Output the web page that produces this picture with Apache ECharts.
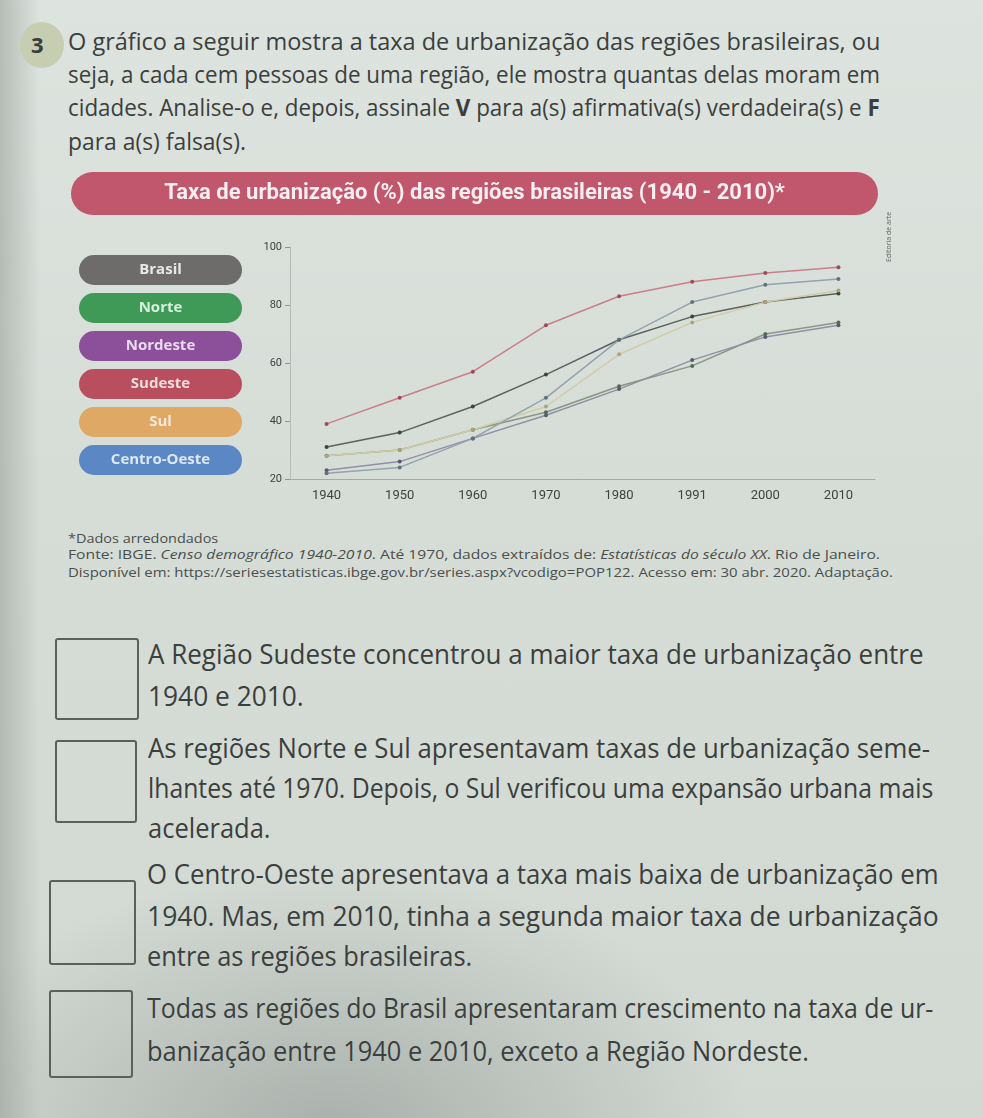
<!DOCTYPE html>
<html lang="pt-BR">
<head>
<meta charset="utf-8">
<script src="https://cdn.jsdelivr.net/npm/echarts@6/dist/echarts.min.js"></script>
<style>
  html, body { margin:0; padding:0; }
  body {
    width:983px; height:1118px; position:relative; overflow:hidden;
    font-family:"Open Sans", "Noto Sans", sans-serif; color:#3b3f3d;
    background:
      radial-gradient(ellipse 420px 260px at 330px 1130px, rgba(120,128,124,0.45), rgba(120,128,124,0) 100%),
      linear-gradient(90deg, rgba(150,158,152,0.55) 0px, rgba(150,158,152,0) 40px),
      linear-gradient(180deg, #dde3de 0px, #d6ddd7 500px, #d2d9d3 1118px);
  }
  .ln { position:absolute; white-space:nowrap; transform-origin:0 50%; }
  .p { font-size:23px; line-height:26px; }
  .s { font-size:28px; line-height:32px; }
  .f { font-size:13px; line-height:15px; color:#4a4e4c; }
  .box { position:absolute; border:2px solid #5b5f5d; border-radius:3px; box-sizing:border-box; }
  #num { position:absolute; left:20px; top:22px; width:44px; height:46px; border-radius:50%;
         background:#c6cdb0; }
  #numt { position:absolute; left:31px; top:29px; font-size:22px; font-weight:bold; color:#3a3d3b; }
  #chart { position:absolute; left:0; top:160px; width:983px; height:360px; }
  #ed { position:absolute; left:884px; top:262px; font-size:7px; color:#666; transform:rotate(-90deg); transform-origin:0 0; }
</style>
</head>
<body>
<div id="num"></div><div id="numt">3</div>

<div class="ln p" data-x="68" data-y="41" data-w="812">O gráfico a seguir mostra a taxa de urbanização das regiões brasileiras, ou</div>
<div class="ln p" data-x="68" data-y="74" data-w="812">seja, a cada cem pessoas de uma região, ele mostra quantas delas moram em</div>
<div class="ln p" data-x="68" data-y="107" data-w="812">cidades. Analise-o e, depois, assinale <b>V</b> para a(s) afirmativa(s) verdadeira(s) e <b>F</b></div>
<div class="ln p" data-x="68" data-y="141" data-w="178">para a(s) falsa(s).</div>

<div id="chart"></div>
<div id="ed">Editoria de arte</div>

<div class="ln f" data-x="68" data-y="538" data-w="150">*Dados arredondados</div>
<div class="ln f" data-x="68" data-y="554" data-w="812">Fonte: IBGE. <i>Censo demográfico 1940-2010</i>. Até 1970, dados extraídos de: <i>Estatísticas do século XX</i>. Rio de Janeiro.</div>
<div class="ln f" data-x="68" data-y="572" data-w="825">Disponível em: https://seriesestatisticas.ibge.gov.br/series.aspx?vcodigo=POP122. Acesso em: 30 abr. 2020. Adaptação.</div>

<div class="box" style="left:55px;top:638px;width:84px;height:82px"></div>
<div class="box" style="left:55px;top:740px;width:82px;height:83px"></div>
<div class="box" style="left:49px;top:880px;width:87px;height:85px"></div>
<div class="box" style="left:49px;top:990px;width:84px;height:88px"></div>

<div class="ln s" data-x="148" data-y="653" data-w="776">A Região Sudeste concentrou a maior taxa de urbanização entre</div>
<div class="ln s" data-x="148" data-y="695" data-w="156">1940 e 2010.</div>
<div class="ln s" data-x="148" data-y="747" data-w="782">As regiões Norte e Sul apresentavam taxas de urbanização seme-</div>
<div class="ln s" data-x="148" data-y="787" data-w="785">lhantes até 1970. Depois, o Sul verificou uma expansão urbana mais</div>
<div class="ln s" data-x="148" data-y="827" data-w="123">acelerada.</div>
<div class="ln s" data-x="147" data-y="873" data-w="792">O Centro-Oeste apresentava a taxa mais baixa de urbanização em</div>
<div class="ln s" data-x="147" data-y="915" data-w="792">1940. Mas, em 2010, tinha a segunda maior taxa de urbanização</div>
<div class="ln s" data-x="147" data-y="955" data-w="325">entre as regiões brasileiras.</div>
<div class="ln s" data-x="147" data-y="1007" data-w="786">Todas as regiões do Brasil apresentaram crescimento na taxa de ur-</div>
<div class="ln s" data-x="147" data-y="1050" data-w="662">banização entre 1940 e 2010, exceto a Região Nordeste.</div>

<script>
// ---- data ----
const years = ['1940', '1950', '1960', '1970', '1980', '1991', '2000', '2010'];
const regionNames = ['Brasil', 'Norte', 'Nordeste', 'Sudeste', 'Sul', 'Centro-Oeste'];
const brasil      = [31, 36, 45, 56, 68, 76, 81, 84];
const norte       = [28, 30, 37, 43, 52, 59, 70, 74];
const nordeste    = [23, 26, 34, 42, 51, 61, 69, 73];
const sudeste     = [39, 48, 57, 73, 83, 88, 91, 93];
const sul         = [28, 30, 37, 45, 63, 74, 81, 85];
const centroOeste = [22, 24, 34, 48, 68, 81, 87, 89];
const yTicks = [20, 40, 60, 80, 100];
const titleText = 'Taxa de urbanização (%) das regiões brasileiras (1940 - 2010)*';

// ---- styles ----
const seriesValues = [brasil, norte, nordeste, sudeste, sul, centroOeste];
const pillColors = ['#6d6c6b', '#3f9a58', '#8c4f9a', '#b94f5e', '#dfa865', '#5b87c4'];
const pillText   = ['#e8e8e8', '#d8efdc', '#eadcf0', '#f3dcdc', '#f6ead6', '#dde8f6'];
const lineColors = ['#5b625d', '#849883', '#938ea3', '#c97f88', '#d2cca6', '#91a3ae'];
const dotColors  = ['#3d4440', '#556b58', '#5d5770', '#a04a58', '#aca47a', '#5f7280'];

// fit text lines
document.querySelectorAll('.ln').forEach(el => {
  const x = +el.dataset.x, y = +el.dataset.y, w = +el.dataset.w;
  el.style.left = x + 'px';
  el.style.top = (y - el.offsetHeight / 2) + 'px';
  const nat = el.scrollWidth;
  el.style.transform = 'scaleX(' + (w / nat) + ')';
});

const rich = {};
regionNames.forEach((n, i) => {
  rich['p' + i] = {
    width: 163, height: 30, lineHeight: 30, align: 'center',
    backgroundColor: pillColors[i], borderRadius: 15,
    color: pillText[i], fontSize: 15, fontWeight: 'bold',
    fontFamily: 'Open Sans'
  };
});

const chart = echarts.init(document.getElementById('chart'), null, { renderer: 'canvas' });
chart.setOption({
  animation: false,
  backgroundColor: 'transparent',
  title: {
    left: 71, top: 12, padding: 0,
    text: '{t|' + titleText + '}',
    textStyle: {
      rich: {
        t: {
          width: 807, height: 43, lineHeight: 43, align: 'center',
          backgroundColor: '#c0576c', borderRadius: 22,
          color: '#f6eef0', fontSize: 22, fontWeight: 'bold', fontFamily: 'Roboto'
        }
      }
    }
  },
  legend: {
    orient: 'vertical', left: 73, top: 95, itemGap: 8,
    itemWidth: 0, itemHeight: 0, padding: 0,
    data: regionNames,
    formatter: name => '{p' + regionNames.indexOf(name) + '|' + name + '}',
    textStyle: { rich: rich }
  },
  grid: { left: 290, right: 108, top: 87, bottom: 41 },
  xAxis: {
    type: 'category', data: years, boundaryGap: true,
    axisLine: { lineStyle: { color: '#a4aba6', width: 1 } },
    axisTick: { alignWithLabel: true, length: 4, lineStyle: { color: '#a4aba6' } },
    axisLabel: { color: '#3f4341', fontSize: 13, fontFamily: 'Roboto', margin: 10 }
  },
  yAxis: {
    type: 'value', min: 20, max: 100, interval: 20,
    axisLine: { show: true, lineStyle: { color: '#b5bcb7', width: 1 } },
    axisTick: { show: true, length: 5, lineStyle: { color: '#8d948f' } },
    splitLine: { show: false },
    axisLabel: { color: '#3f4341', fontSize: 11, fontFamily: 'Roboto', margin: 8,
                 formatter: v => yTicks.includes(v) ? String(v) : '' }
  },
  series: regionNames.map((n, i) => ({
    name: n, type: 'line', data: seriesValues[i],
    symbol: 'circle', symbolSize: 4, showSymbol: true,
    lineStyle: { color: lineColors[i], width: 1.5 },
    itemStyle: { color: dotColors[i] },
    emphasis: { disabled: true }
  }))
});
</script>
</body>
</html>
